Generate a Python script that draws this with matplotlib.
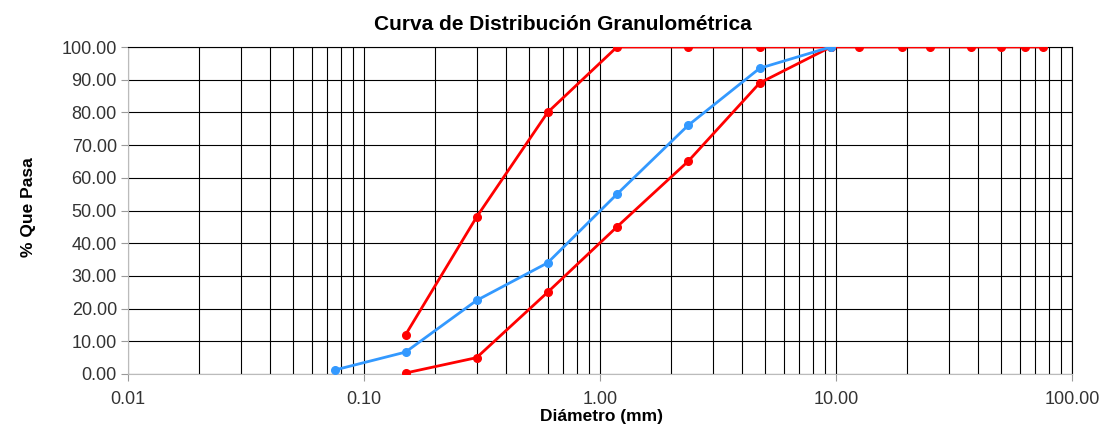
import numpy as np
import matplotlib
matplotlib.use("Agg")
import matplotlib.pyplot as plt
from matplotlib.ticker import FixedLocator, LogLocator, NullFormatter

# sieve openings (mm)
upper_x = [0.15, 0.3, 0.6, 1.18, 2.36, 4.75, 9.5, 12.5, 19, 25, 37.5, 50, 63, 75]
upper_y = [12, 48, 80, 100, 100, 100, 100, 100, 100, 100, 100, 100, 100, 100]
sample_x = [0.075, 0.15, 0.3, 0.6, 1.18, 2.36, 4.75, 9.5]
sample_y = [1.2, 6.7, 22.5, 34, 55, 76, 93.5, 100]
lower_x = [0.15, 0.3, 0.6, 1.18, 2.36, 4.75, 9.5]
lower_y = [0.3, 5, 25, 45, 65, 89, 100]

xticks = [0.01, 0.1, 1, 10, 100]
xticklabels = ["0.01", "0.10", "1.00", "10.00", "100.00"]
yticks = np.arange(0, 101, 10)

plt.rcParams['font.family'] = ['Liberation Sans', 'DejaVu Sans']

fig = plt.figure(figsize=(11.03, 4.25), dpi=100)
ax = fig.add_axes([128 / 1103, 1 - 374 / 425, (1072 - 128) / 1103, (374 - 47) / 425])

ax.set_xscale("log")
ax.set_xlim(0.01, 100)
ax.set_ylim(0, 100)

# grid
ax.xaxis.set_major_locator(FixedLocator(xticks))
ax.xaxis.set_minor_locator(LogLocator(base=10, subs=np.arange(2, 10)))
ax.xaxis.set_minor_formatter(NullFormatter())
ax.set_xticks(xticks)
ax.set_xticklabels(xticklabels)
ax.set_yticks(yticks)
ax.set_yticklabels(["%.2f" % v for v in yticks])
ax.grid(True, which="both", axis="x", color="black", linewidth=0.8)
ax.grid(True, which="major", axis="y", color="black", linewidth=0.8)
ax.set_axisbelow(True)

ax.plot(upper_x, upper_y, color="#FF0000", linewidth=2, marker="o", markersize=5.5, zorder=3)
ax.plot(lower_x, lower_y, color="#FF0000", linewidth=2, marker="o", markersize=5.5, zorder=3)
ax.plot(sample_x, sample_y, color="#3399FF", linewidth=2, marker="o", markersize=5.5, zorder=4)

for s in ["left", "bottom"]:
    ax.spines[s].set_color("#BBBBBB")
for s in ["top", "right"]:
    ax.spines[s].set_color("black")
    ax.spines[s].set_linewidth(0.8)

ax.tick_params(axis="both", which="major", length=5, color="#999999", labelsize=13, labelcolor="#333333")
ax.tick_params(axis="x", which="minor", length=0)
ax.tick_params(axis="y", pad=3)
ax.tick_params(axis="x", pad=7)

fig.text(563 / 1103, 1 - 24 / 425, "Curva de Distribución Granulométrica", fontsize=15,
         fontweight="bold", ha="center", va="center")
fig.text(602 / 1103, 1 - 416 / 425, "Diámetro (mm)", fontsize=12.5,
         fontweight="bold", ha="center", va="center")
fig.text(28 / 1103, 1 - 207 / 425, "% Que Pasa", fontsize=12.5, fontweight="bold",
         ha="center", va="center", rotation=90)

fig.savefig("out.png", dpi=100)
